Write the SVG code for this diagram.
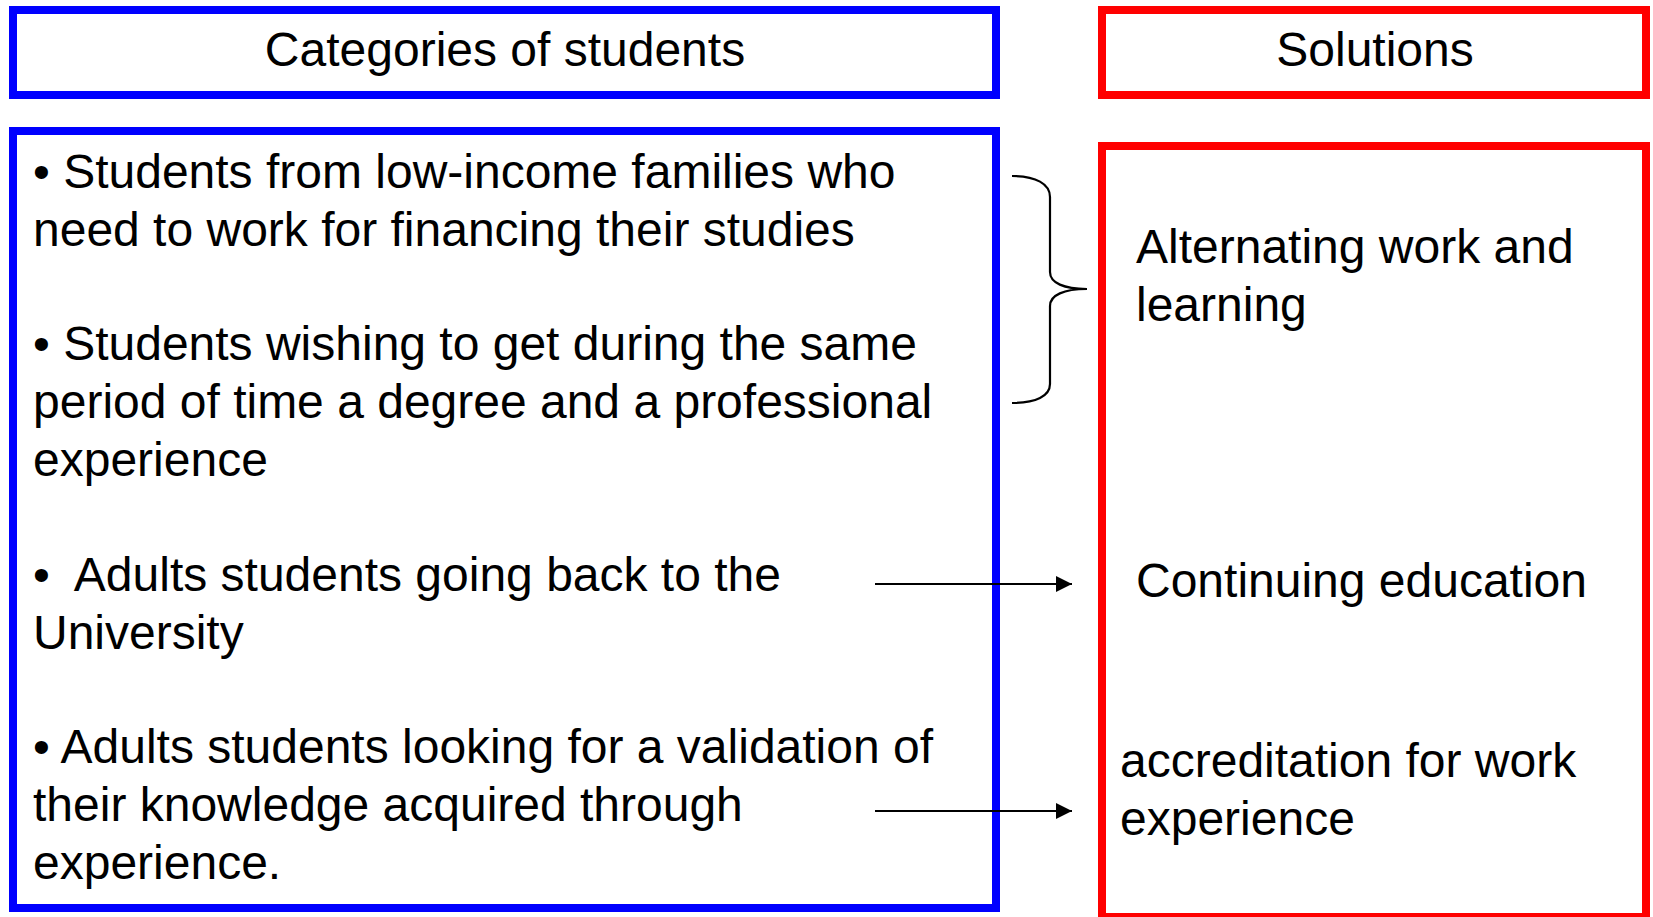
<svg xmlns="http://www.w3.org/2000/svg" width="1653" height="917" viewBox="0 0 1653 917">
<style>
.t{font-family:"Liberation Sans",Arial,sans-serif;font-size:48px;fill:#000}
.blue{fill:none;stroke:#0000ff;stroke-width:8}
.red{fill:none;stroke:#ff0000;stroke-width:8}
.ln{fill:none;stroke:#000;stroke-width:2.2}
</style>
<defs>
<marker id="ah" markerWidth="16" markerHeight="16" viewBox="0 0 16 16" refX="16" refY="8" orient="auto" markerUnits="userSpaceOnUse">
<path d="M0,0 L16,8 L0,16 z" fill="#000"/>
</marker>
</defs>
<rect width="1653" height="917" fill="#fff"/>
<g id="cat-header">
<rect class="blue" x="13" y="10" width="983" height="85"/>
<text class="t" x="505" y="66" text-anchor="middle">Categories of students</text>
</g>
<g id="sol-header">
<rect class="red" x="1102" y="10" width="544" height="85"/>
<text class="t" x="1375" y="66" text-anchor="middle">Solutions</text>
</g>
<g id="categories">
<rect class="blue" x="13" y="131" width="983" height="777"/>
<text class="t" x="33" y="188">• Students from low-income families who</text>
<text class="t" x="33" y="246">need to work for financing their studies</text>
<text class="t" x="33" y="360">• Students wishing to get during the same</text>
<text class="t" x="33" y="418">period of time a degree and a professional</text>
<text class="t" x="33" y="476">experience</text>
<text class="t" x="33" y="591" xml:space="preserve">•  Adults students going back to the</text>
<text class="t" x="33" y="649">University</text>
<text class="t" x="33" y="763">• Adults students looking for a validation of</text>
<text class="t" x="33" y="821">their knowledge acquired through</text>
<text class="t" x="33" y="879">experience.</text>
</g>
<g id="solutions">
<rect class="red" x="1102" y="146" width="544" height="771"/>
<text class="t" x="1136" y="263">Alternating work and</text>
<text class="t" x="1136" y="321">learning</text>
<text class="t" x="1136" y="597">Continuing education</text>
<text class="t" x="1120" y="777">accreditation for work</text>
<text class="t" x="1120" y="835">experience</text>
</g>
<g id="connectors">
<path class="ln" d="M1012,176 C1036,176 1050,184 1050,197 L1050,272 C1050,283 1064,289 1087,289 C1064,289 1050,295 1050,306 L1050,384 C1050,396 1036,403 1012,403"/>
<line class="ln" x1="875" y1="584" x2="1072" y2="584" marker-end="url(#ah)"/>
<line class="ln" x1="875" y1="811" x2="1072" y2="811" marker-end="url(#ah)"/>
</g>
</svg>
